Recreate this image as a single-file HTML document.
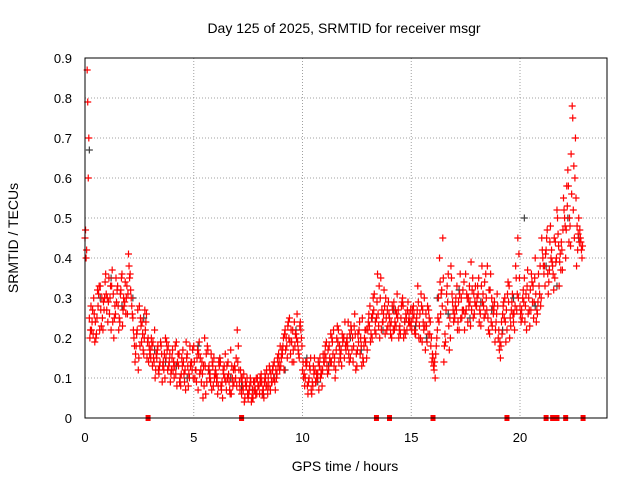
<!DOCTYPE html>
<html><head><meta charset="utf-8"><style>
body{margin:0;background:#fff}
svg{display:block;font-family:"Liberation Sans",sans-serif}
</style></head><body>
<svg id="chart" width="640" height="480" viewBox="0 0 640 480">
<rect width="640" height="480" fill="#fff"/>
<text x="344" y="33" font-size="14" text-anchor="middle">Day 125 of 2025, SRMTID for receiver msgr</text>
<text transform="translate(18,238) rotate(-90)" font-size="14" text-anchor="middle">SRMTID / TECUs</text>
<text x="345" y="471" font-size="14" text-anchor="middle">GPS time / hours</text>
<g id="grid"></g><g id="ticks"></g><g id="marks"></g>
<rect x="85" y="58" width="522" height="360" fill="none" stroke="#000" stroke-width="1"/>
</svg>
<script>
const xTicks=[0,5,10,15,20];
const yTicks=[0,0.1,0.2,0.3,0.4,0.5,0.6,0.7,0.8,0.9];
const yTickLabels=["0","0.1","0.2","0.3","0.4","0.5","0.6","0.7","0.8","0.9"];
const redA=[.45,.87,.25,.22,.30,.20,.28,.33,.25,.30,.27,.35,.22,.31,.26,.33,.24,.36,.28,.30,.41,.32,.25,.14,.22,.28,.19,.16,.24,.20,.17,.13,.22,.15,.11,.18,.14,.20,.12,.16,.15,.10,.19,.13,.08,.17,.12,.16,.10,.14,.18,.12,.07,.15,.11,.20,.09,.13,.16,.08,.12,.06,.15,.09,.13,.07,.11,.17,.08,.12,.22,.09,.06,.11,.08,.05,.10,.07,.09,.06,.08,.11,.07,.10,.06,.12,.09,.14,.10,.16,.13,.18,.22,.15,.25,.19,.14,.21,.17,.24,.12,.08,.14,.10,.07,.13,.09,.11,.15,.08,.14,.19,.12,.21,.16,.10,.23,.18,.13,.20,.17,.24,.15,.20,.26,.13,.22,.18,.14,.19,.22,.28,.20,.31,.25,.23,.35,.24,.21,.27,.25,.20,.29,.23,.27,.21,.30,.24,.22,.26,.24,.28,.21,.33,.26,.19,.30,.23,.27,.18,.15,.10,.22,.40,.32,.14,.27,.36,.20,.29,.25,.33,.22,.30,.27,.36,.24,.29,.32,.26,.28,.35,.23,.31,.26,.38,.21,.30,.27,.24,.20,.15,.26,.30,.22,.33,.27,.24,.38,.45,.28,.25,.35,.22,.30,.27,.33,.40,.26,.31,.45,.36,.42,.31,.48,.38,.35,.52,.33,.44,.55,.40,.62,.48,.78,.45,.38,.50,.44];
const redB=[.40,.60,.22,.27,.19,.25,.33,.23,.29,.36,.24,.30,.37,.25,.29,.22,.32,.27,.34,.26,.35,.28,.20,.18,.12,.25,.21,.27,.15,.18,.20,.15,.12,.18,.14,.09,.16,.19,.13,.11,.12,.18,.14,.09,.15,.11,.19,.08,.13,.17,.10,.15,.19,.09,.13,.06,.17,.11,.14,.10,.09,.14,.08,.12,.16,.10,.07,.13,.09,.15,.18,.12,.08,.05,.10,.07,.04,.09,.06,.08,.10,.06,.09,.12,.08,.11,.13,.07,.15,.12,.17,.12,.20,.24,.16,.22,.18,.26,.15,.20,.10,.14,.06,.12,.09,.15,.11,.07,.12,.16,.18,.11,.15,.20,.13,.17,.22,.15,.19,.24,.20,.14,.22,.18,.12,.21,.16,.25,.20,.15,.26,.21,.30,.24,.36,.20,.27,.32,.25,.29,.21,.27,.24,.31,.22,.28,.20,.26,.29,.23,.27,.22,.25,.20,.31,.24,.17,.28,.21,.14,.12,.18,.30,.26,.45,.21,.33,.17,.35,.24,.30,.24,.36,.27,.22,.31,.28,.39,.25,.33,.33,.27,.38,.25,.30,.22,.36,.28,.19,.31,.17,.24,.29,.19,.34,.25,.31,.22,.27,.41,.24,.32,.28,.37,.23,.34,.29,.24,.36,.28,.40,.33,.47,.37,.42,.32,.39,.46,.41,.37,.50,.58,.44,.66,.52,.70,.42,.47,.40];
const redC=[.47,.79,.20,.24,.26,.21,.31,.27,.22,.34,.30,.26,.33,.20,.35,.28,.31,.23,.29,.33,.38,.30,.22,.16,.27,.18,.24,.20,.26,.14,.15,.19,.10,.17,.13,.16,.12,.15,.18,.09,.17,.13,.08,.16,.11,.14,.07,.13,.18,.12,.14,.09,.16,.12,.05,.13,.18,.10,.07,.15,.11,.08,.14,.05,.10,.13,.09,.06,.12,.10,.14,.07,.10,.04,.08,.06,.09,.05,.07,.10,.06,.09,.05,.08,.10,.07,.12,.09,.11,.14,.15,.20,.17,.23,.19,.14,.24,.20,.16,.22,.14,.10,.08,.13,.06,.11,.09,.14,.10,.12,.16,.13,.18,.14,.22,.12,.19,.16,.21,.15,.19,.16,.23,.14,.21,.17,.24,.13,.18,.22,.24,.19,.26,.22,.29,.33,.22,.26,.30,.23,.23,.28,.22,.26,.20,.25,.28,.21,.27,.24,.22,.26,.24,.29,.20,.27,.23,.19,.25,.20,.13,.16,.25,.34,.28,.18,.31,.23,.38,.27,.28,.22,.31,.25,.34,.27,.30,.23,.35,.29,.30,.24,.33,.28,.36,.25,.32,.23,.29,.26,.22,.18,.28,.24,.31,.20,.29,.26,.35,.30,.26,.30,.24,.33,.27,.36,.25,.31,.29,.38,.42,.38,.45,.34,.40,.36,.44,.50,.39,.42,.52,.47,.58,.43,.75,.60,.48,.44,.42];
const redD=[.42,.70,.28,.21,.24,.32,.22,.30,.27,.31,.29,.33,.24,.28,.32,.25,.35,.30,.26,.31,.36,.26,.18,.21,.15,.23,.17,.22,.19,.16,.18,.14,.16,.12,.19,.13,.10,.17,.14,.12,.14,.11,.16,.10,.13,.09,.15,.11,.14,.10,.12,.17,.11,.14,.08,.16,.12,.09,.13,.11,.10,.13,.07,.11,.09,.14,.06,.10,.13,.08,.12,.10,.07,.09,.06,.08,.05,.07,.10,.08,.09,.07,.11,.08,.13,.09,.10,.12,.13,.18,.16,.21,.18,.20,.22,.17,.21,.19,.23,.18,.11,.13,.09,.15,.08,.12,.10,.13,.11,.14,.15,.17,.14,.19,.15,.20,.14,.17,.20,.18,.18,.21,.17,.23,.16,.19,.20,.15,.22,.17,.23,.25,.27,.21,.26,.30,.24,.28,.22,.26,.24,.22,.27,.25,.23,.29,.22,.25,.24,.27,.25,.21,.27,.23,.28,.22,.26,.21,.24,.16,.14,.20,.24,.31,.35,.19,.29,.25,.31,.26,.27,.29,.25,.32,.26,.30,.33,.27,.31,.28,.31,.26,.29,.34,.27,.32,.24,.26,.22,.28,.19,.21,.25,.27,.29,.23,.26,.28,.31,.35,.27,.29,.31,.26,.32,.29,.35,.27,.33,.30,.38,.41,.36,.44,.39,.45,.40,.43,.37,.47,.48,.53,.50,.56,.63,.55,.46,.45,.43];
const grayV=[.67,.30,.35,.28,.30,.25,.17,.14,.13,.10,.18,.12,.15,.10,.08,.07,.06,.10,.12,.22,.15,.09,.13,.18,.20,.17,.25,.22,.27,.24,.23,.20,.30,.26,.32,.25,.29,.27,.22,.30,.50,.28,.38,.33,.50,.45];
const zeroHours=[2.9,7.2,13.4,14.0,16.0,19.4,21.2,21.5,21.7,22.1,22.9];
const X=h=>85+h*(522/24), Y=v=>418-v*400;
const ns="http://www.w3.org/2000/svg";
const grid=document.getElementById('grid'),ticks=document.getElementById('ticks'),marks=document.getElementById('marks');
function mk(tag,at,parent){const e=document.createElementNS(ns,tag);for(const k in at)e.setAttribute(k,at[k]);parent.appendChild(e);return e;}
xTicks.forEach(t=>{
 const g=mk('line',{x1:X(t),x2:X(t),y1:58,y2:418,stroke:'#a0a0a0','stroke-dasharray':'1,2'},grid);
 
 
 const l=mk('text',{x:X(t),y:442,'font-size':13,'text-anchor':'middle'},ticks);l.textContent=t;
 
 
});
yTicks.forEach((t,i)=>{
 const g=mk('line',{x1:85,x2:607,y1:Y(t),y2:Y(t),stroke:'#a0a0a0','stroke-dasharray':'1,2'},grid);
 
 
 const l=mk('text',{x:72,y:Y(t)+5,'font-size':13,'text-anchor':'end'},ticks);l.textContent=yTickLabels[i];
 
 
});
function plus(h,v,col){
 const x=X(h),y=Y(v);
 const p=mk('path',{d:`M${x-3.5},${y}H${x+3.5}M${x},${y-3.5}V${y+3.5}`,stroke:col,'stroke-width':1.2,fill:'none'},marks);
 
 
}
grayV.forEach((v,i)=>plus(i*0.5+0.2,v,'#404040'));
redA.forEach((v,i)=>plus(i*0.1,v,'#ff0000'));
redC.forEach((v,i)=>plus(i*0.1+0.025,v,'#ff0000'));
redB.forEach((v,i)=>plus(i*0.1+0.05,v,'#ff0000'));
redD.forEach((v,i)=>plus(i*0.1+0.075,v,'#ff0000'));
zeroHours.forEach(h=>{
 const r=mk('rect',{x:X(h)-2.5,y:415,width:5,height:6,fill:'#ff0000'},marks);
 
 
});
</script>
</body></html>
